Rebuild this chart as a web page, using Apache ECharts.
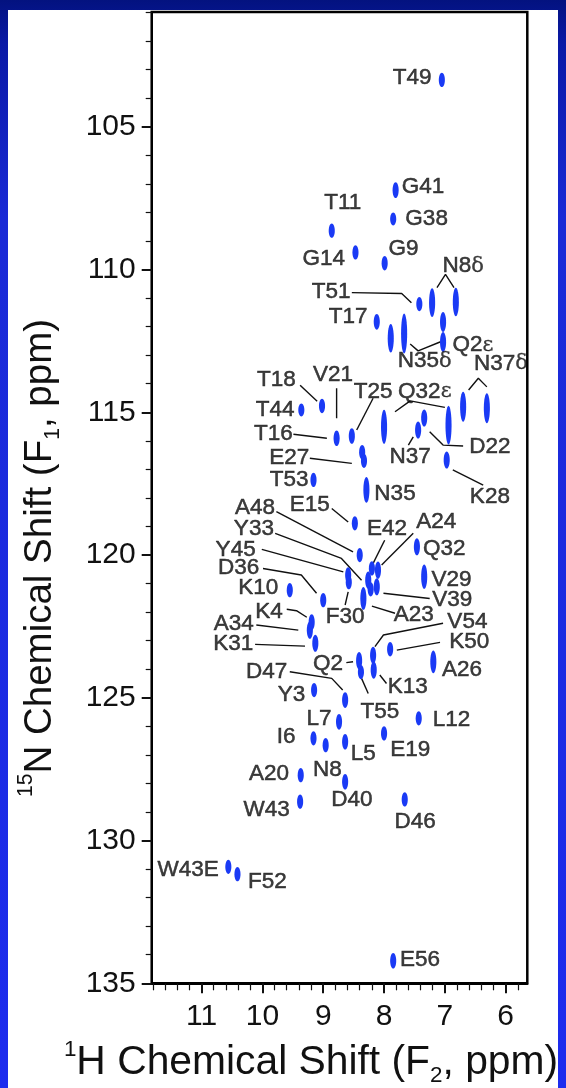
<!DOCTYPE html>
<html><head><meta charset="utf-8">
<script src="https://cdn.jsdelivr.net/npm/echarts@6/dist/echarts.min.js"></script>
<style>html,body{margin:0;padding:0;width:566px;height:1088px;overflow:hidden;}#c{width:566px;height:1088px;}</style>
</head><body><div id="c"></div><script>
// ---- Data (1H ppm, 15N ppm, 15N extent of the peak in ppm) ----
const peakNames = ['T49','G41','G38','T11','G14','G9','T51','N8d-a','N8d-b','T17','x1','N35d-a','Q2e-a','Q2e-b',
 'N37d-a','N37d-b','T18','T44','V21','T25','Q32e-a','Q32e-b','D22','N37','K28','E27a','E27b','T53','N35','E15','A48','Q32',
 'Y45','F30','E42','A24','Y33','V39','A23','c1','D36','K10','V29','K4','A34','K31','V54','K13','K50','Q2','T55','A26',
 'D47','Y3','L7','L12','I6','N8','L5','E19','A20','D40','W43','D46','W43E','F52','E56'];
const peakH = [7.05,7.81,7.85,8.86,8.47,7.99,7.42,7.21,6.82,8.12,7.89,7.67,7.03,7.03,
 6.70,6.31,9.02,9.36,8.78,8.53,8.00,6.94,7.34,7.44,6.97,8.36,8.33,9.16,8.29,8.48,8.40,7.46,
 8.59,8.58,8.20,8.10,8.26,8.12,8.34,8.22,9.00,9.55,7.34,9.19,9.22,9.13,8.18,8.17,7.90,8.41,8.38,7.19,
 8.64,9.15,8.74,7.43,9.16,8.96,8.64,8.00,9.37,8.64,9.38,7.66,10.56,10.41,7.85];
const peakN = [103.36,107.22,108.23,108.64,109.40,109.78,111.21,111.16,111.14,111.83,112.41,112.24,111.84,112.54,
 114.81,114.86,114.78,114.92,115.91,115.83,115.51,115.45,115.20,115.62,116.67,116.40,116.70,117.37,117.72,118.89,120.00,119.71,
 120.70,120.95,120.47,120.53,120.88,121.11,121.52,121.20,121.58,121.23,120.76,122.35,122.63,123.09,123.51,124.03,123.30,123.70,124.10,123.74,
 125.08,124.73,125.84,125.72,126.42,126.66,126.54,126.25,127.71,127.94,128.64,128.56,130.92,131.18,134.21];
const peakSpanN = [0.5,0.55,0.45,0.5,0.5,0.5,0.5,1.0,1.0,0.55,1.0,1.4,0.7,0.7,
 1.05,1.05,0.5,0.45,0.55,0.55,1.2,1.35,0.6,0.6,0.6,0.5,0.5,0.5,0.9,0.5,0.5,0.6,
 0.55,0.5,0.5,0.6,0.6,0.6,0.8,0.5,0.5,0.5,0.85,0.55,0.6,0.6,0.6,0.6,0.5,0.6,0.5,0.8,
 0.55,0.5,0.55,0.5,0.5,0.5,0.55,0.5,0.5,0.55,0.5,0.5,0.5,0.5,0.55];

// assignment labels (text, 1H ppm, 15N ppm of label centre)
const labelText = ['T49','G41','G38','T11','G14','G9','N8δ','T51','T17','Q2ε','N35δ','N37δ','T18','V21','T25','Q32ε',
 'T44','T16','D22','E27','N37','T53','N35','K28','E15','A48','E42','A24','Y33','Q32','Y45','D36','V29','K10','V39',
 'K4','F30','A23','V54','A34','K50','K31','Q2','A26','D47','K13','Y3','T55','L7','L12','I6','E19','L5','N8','A20',
 'D40','W43','D46','W43E','F52','E56'];
const labelH = [7.54,7.36,7.30,8.68,8.99,7.68,6.70,8.87,8.59,6.54,7.33,6.08,9.77,8.84,8.18,7.33,
 9.79,9.82,6.26,9.56,7.57,9.56,7.82,6.26,9.22,10.12,7.95,7.14,10.14,7.01,10.44,10.39,6.89,10.07,6.88,
 9.89,8.64,7.51,6.63,10.47,6.60,10.48,8.92,6.72,9.93,7.61,9.52,8.07,9.07,6.89,9.61,7.57,8.34,8.93,9.89,
 8.53,9.93,7.49,11.22,9.92,7.41];
const labelN = [103.30,107.11,108.23,107.66,109.63,109.28,109.88,110.78,111.65,112.65,113.21,113.29,113.87,113.70,114.28,114.28,
 114.92,115.76,116.21,116.61,116.56,117.37,117.84,117.96,118.25,118.36,119.07,118.84,119.07,119.77,119.83,120.43,120.88,121.13,121.58,
 121.99,122.16,122.10,122.34,122.42,123.04,123.12,123.80,124.03,124.09,124.61,124.91,125.49,125.72,125.78,126.37,126.83,126.95,127.53,127.65,
 128.58,128.91,129.34,131.03,131.44,134.19];

// leader lines, each a list of [1H, 15N] vertices
const leaders = [
 [[7.13,110.63],[6.99,110.17],[6.85,110.63]],            // N8δ
 [[8.53,110.81],[7.71,110.84],[7.55,111.16]],            // T51
 [[7.57,112.61],[7.44,112.85],[7.07,112.53]],            // N35δ
 [[6.61,114.22],[6.45,113.81],[6.31,114.11]],            // N37δ
 [[9.38,114.05],[9.10,114.61]],                          // T18
 [[8.78,114.16],[8.78,115.21]],                          // V21
 [[8.18,114.51],[8.45,115.62]],                          // T25
 [[9.49,115.77],[8.94,115.91]],                          // T16
 [[7.82,114.98],[7.57,114.60],[7.00,114.83]],            // Q32ε
 [[6.70,116.18],[7.03,116.15],[7.25,115.68]],            // D22
 [[7.60,116.15],[7.52,115.86]],                          // N37
 [[6.37,117.55],[6.87,117.02]],                          // K28
 [[9.22,116.61],[8.53,116.79]],                          // E27
 [[8.86,118.37],[8.59,118.84]],                          // E15
 [[9.77,118.48],[8.51,119.89]],                          // A48
 [[7.99,119.48],[8.18,120.29]],                          // E42
 [[7.52,119.24],[8.04,120.35]],                          // A24
 [[9.79,119.24],[8.70,120.12],[8.37,120.88]],            // Y33
 [[10.01,119.80],[8.67,120.59]],                         // Y45
 [[9.99,120.47],[9.36,120.70],[9.11,121.34]],            // D36
 [[7.25,121.52],[8.01,121.34]],                          // V39
 [[8.64,121.75],[8.59,121.29]],                          // F30
 [[7.82,122.04],[8.20,121.79]],                          // A23
 [[9.60,121.90],[9.44,121.95],[9.27,122.18]],            // K4
 [[10.10,122.45],[9.41,122.63]],                         // A34
 [[10.12,123.13],[9.30,123.19]],                         // K31
 [[7.03,122.39],[8.01,122.80],[8.15,123.21]],            // V54
 [[7.08,123.06],[7.79,123.33]],                          // K50
 [[8.62,123.77],[8.51,123.74]],                          // Q2
 [[7.96,124.50],[8.07,124.20]],                          // K13
 [[8.26,124.85],[8.37,124.32]],                          // T55
 [[9.55,124.09],[8.86,124.32],[8.68,124.73]]             // D47
];

const xMajor = [6,7,8,9,10,11];
const xMinor = [5.8,6.2,6.4,6.6,6.8,7.2,7.4,7.6,7.8,8.2,8.4,8.6,8.8,9.2,9.4,9.6,9.8,10.2,10.4,10.6,10.8,11.2,11.4,11.6,11.8];
const yMajor = [105,110,115,120,125,130,135];
const yMinor = [101,102,103,104,106,107,108,109,111,112,113,114,116,117,118,119,121,122,123,124,126,127,128,129,131,132,133,134];

// ---- Chart ----
const FONT = '"Liberation Sans", Arial, Helvetica, sans-serif';
const GREEK = '"DejaVu Serif","Liberation Serif", serif';
const chart = echarts.init(document.getElementById('c'), null, {renderer: 'canvas'});

function xAxisDef(major) {
  return {
    type: 'value', min: 5.645, max: 11.82, inverse: true, position: 'bottom', gridIndex: 0,
    axisLine: {show: major, onZero: false, lineStyle: {color: '#000', width: 2}},
    axisTick: {show: true, inside: false, length: major ? 10 : 7, customValues: major ? xMajor : xMinor,
               lineStyle: {color: '#111', width: major ? 2 : 1.2}},
    axisLabel: {show: major, customValues: xMajor, margin: 18, color: '#111', fontSize: 30, fontFamily: FONT},
    splitLine: {show: false}
  };
}
function yAxisDef(major) {
  return {
    type: 'value', min: 100.98, max: 135, inverse: true, position: 'left', gridIndex: 0,
    axisLine: {show: major, onZero: false, lineStyle: {color: '#000', width: 2}},
    axisTick: {show: true, inside: false, length: major ? 10 : 6, customValues: major ? yMajor : yMinor,
               lineStyle: {color: '#111', width: major ? 2 : 1.2}},
    axisLabel: {show: major, customValues: yMajor, margin: 16, color: '#111', fontSize: 30, fontFamily: FONT},
    splitLine: {show: false}
  };
}

function greekRich(t) {
  const last = t.slice(-1);
  if (last === 'δ' || last === 'ε') return '{a|' + t.slice(0, -1) + '}{g|' + last + '}';
  return '{a|' + t + '}';
}

const series = [];
leaders.forEach(function (pts) {
  series.push({
    type: 'line', data: pts, symbol: 'none', silent: true, animation: false, z: 3,
    lineStyle: {color: '#111', width: 1.4}, xAxisIndex: 0, yAxisIndex: 0
  });
});
series.push({
  type: 'custom', xAxisIndex: 0, yAxisIndex: 0, animation: false, z: 5,
  data: peakH.map(function (h, i) { return [h, peakN[i], peakSpanN[i]]; }),
  renderItem: function (params, api) {
    const c = api.coord([api.value(0), api.value(1)]);
    const s = api.size([0.1, api.value(2)]);
    return {type: 'ellipse', shape: {cx: c[0], cy: c[1], rx: Math.abs(s[0]) / 2, ry: Math.abs(s[1]) / 2},
            style: {fill: '#1a3af5'}};
  }
});
series.push({
  type: 'scatter', xAxisIndex: 0, yAxisIndex: 0, animation: false, z: 6, symbolSize: 1,
  itemStyle: {color: 'rgba(0,0,0,0)'},
  data: labelText.map(function (t, i) { return {value: [labelH[i], labelN[i]], name: t}; }),
  label: {
    show: true, position: 'inside', align: 'center', verticalAlign: 'middle',
    color: '#000',
    formatter: function (p) { return greekRich(p.name); },
    rich: {
      a: {fontSize: 22.5, fontFamily: FONT, color: '#0d0d0d', textBorderColor: '#0d0d0d', textBorderWidth: 0.5},
      g: {fontSize: 21, fontFamily: GREEK, color: '#0d0d0d', textBorderColor: '#0d0d0d', textBorderWidth: 0.3}
    }
  }
});

function titleRich(size) {
  return {
    n: {fontSize: size, fontFamily: FONT, fill: '#111', lineHeight: 48},
    s: {fontSize: size * 0.55, fontFamily: FONT, fill: '#111', verticalAlign: 'top', lineHeight: 48},
    b: {fontSize: size * 0.55, fontFamily: FONT, fill: '#111', verticalAlign: 'bottom', lineHeight: 48}
  };
}

chart.setOption({
  animation: false,
  backgroundColor: {type: 'linear', x: 0, y: 0, x2: 0, y2: 1,
    colorStops: [{offset: 0, color: '#03127f'}, {offset: 0.04, color: '#0a19a6'}, {offset: 0.2, color: '#1a2ad6'}, {offset: 1, color: '#1d2cee'}]},
  graphic: [
    {type: 'rect', left: 8, top: 10, shape: {width: 550, height: 1078}, style: {fill: '#ffffff'}, z: -10, silent: true},
    {type: 'text', x: 311, y: 1063, z: 10,
     style: {text: '{s|1}{n|H Chemical Shift (F}{b|2}{n|, ppm)}', textAlign: 'center', textVerticalAlign: 'middle', rich: titleRich(40.8)}},
    {type: 'text', x: 40, y: 558, rotation: Math.PI / 2, z: 10,
     style: {text: '{s|15}{n|N Chemical Shift (F}{b|1}{n|, ppm)}', textAlign: 'center', textVerticalAlign: 'middle', rich: titleRich(38.5)}}
  ],
  grid: {left: 151.7, right: 38.7, top: 12, bottom: 104.7, show: true, backgroundColor: 'rgba(0,0,0,0)',
         borderColor: '#000', borderWidth: 2.5, containLabel: false},
  xAxis: [xAxisDef(true), xAxisDef(false)],
  yAxis: [yAxisDef(true), yAxisDef(false)],
  series: series
});
</script></body></html>
